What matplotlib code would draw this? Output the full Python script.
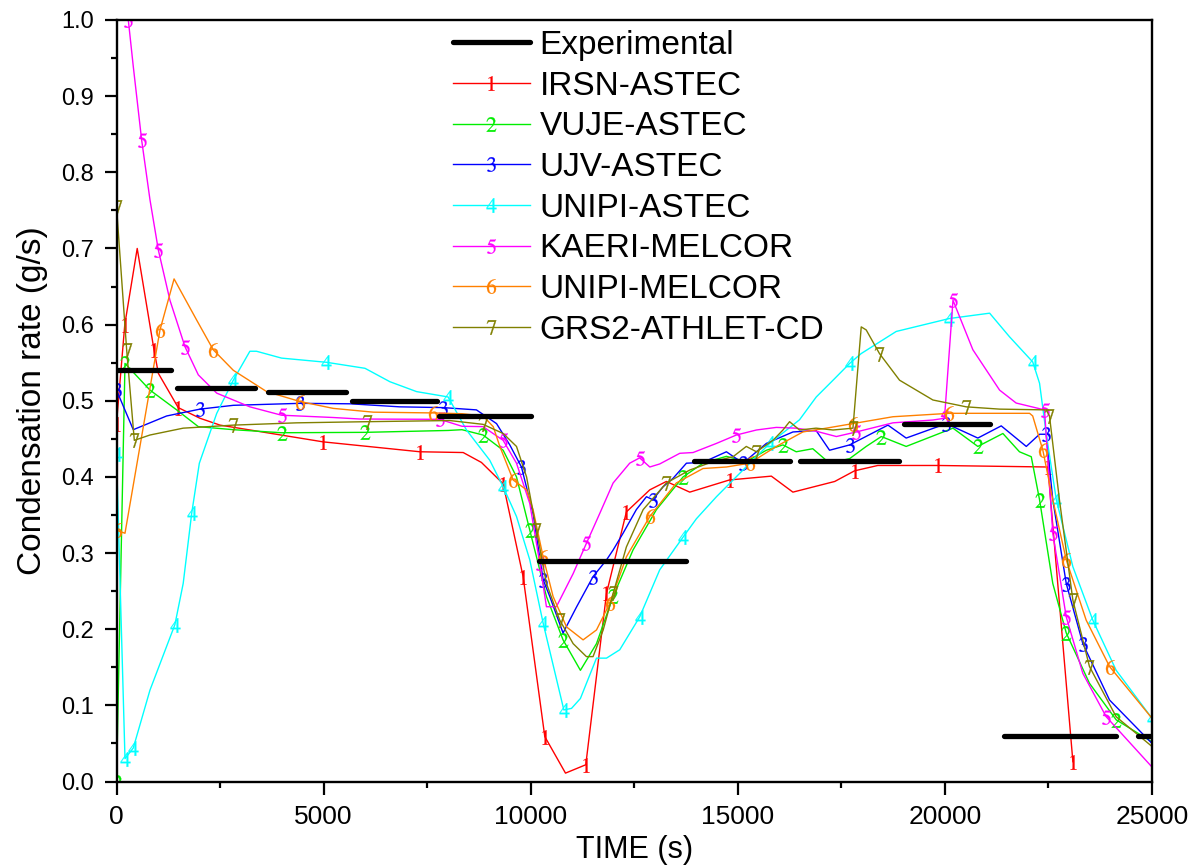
import numpy as np
import matplotlib
matplotlib.use("Agg")
import matplotlib.pyplot as plt

plt.rcParams['font.family'] = ['Liberation Sans', 'DejaVu Sans']
plt.rcParams['mathtext.fontset'] = 'stix'

# Experimental data (horizontal segments)
exp_start = [0, 1460, 3660, 5690, 7780, 10210, 13950, 16510, 19020, 21420, 24670]
exp_end = [1315, 3350, 5540, 7740, 10010, 13740, 16260, 18890, 21090, 24130, 25000]
exp_val = [0.54, 0.517, 0.511, 0.500, 0.480, 0.290, 0.421, 0.421, 0.470, 0.060, 0.060]

# IRSN-ASTEC
irsn_t = [0, 200, 500, 905, 1010, 1490, 2015, 2500, 4990, 7325, 8370, 8810, 9335,
          9817, 10340, 10840, 11330, 11830, 12310, 12875, 13275, 13840, 14800, 15810,
          16330, 17340, 17820, 18380, 19830, 22485, 23090]
irsn_v = [0.47, 0.60, 0.70, 0.567, 0.536, 0.491, 0.477, 0.468, 0.446, 0.433, 0.432,
          0.419, 0.391, 0.269, 0.059, 0.011, 0.022, 0.247, 0.354, 0.383, 0.394, 0.380,
          0.396, 0.401, 0.380, 0.394, 0.408, 0.415, 0.415, 0.413, 0.026]

# VUJE-ASTEC
vuje_t = [0, 205, 808, 1453, 1975, 2820, 3985, 6000, 8010, 8340, 8850, 9335, 9657,
          9978, 10380, 10781, 11200, 11588, 11990, 12470, 13035, 13680, 14160, 14725,
          15200, 15690, 16090, 16410, 16810, 17215, 17700, 18100, 18465, 19065, 20195,
          20795, 21400, 21800, 22085, 22285, 22605, 22930, 23490, 24135, 25000]
vuje_v = [0.0, 0.549, 0.514, 0.488, 0.466, 0.462, 0.458, 0.4585, 0.461, 0.462, 0.455,
          0.435, 0.400, 0.330, 0.243, 0.186, 0.146, 0.181, 0.243, 0.304, 0.357, 0.400,
          0.418, 0.427, 0.42, 0.435, 0.442, 0.433, 0.437, 0.418, 0.424, 0.440, 0.453,
          0.440, 0.464, 0.440, 0.457, 0.433, 0.4265, 0.370, 0.260, 0.195, 0.129, 0.081,
          0.052]

# UJV-ASTEC
ujv_t = [0, 405, 1210, 2015, 2820, 4430, 5640, 6840, 7885, 8690, 9175, 9495, 9777,
         10057, 10300, 10460, 10781, 11105, 11505, 11830, 11990, 12230, 12550, 12795,
         12950, 13195, 13435, 13760, 14160, 14400, 14725, 15125, 15690, 16330, 16890,
         17215, 17700, 18625, 19065, 20035, 20795, 21360, 21965, 22285, 22445, 22605,
         22930, 23330, 23975, 25000]
ujv_v = [0.514, 0.462, 0.48, 0.489, 0.494, 0.4966, 0.496, 0.492, 0.491, 0.488, 0.470,
         0.442, 0.413, 0.352, 0.265, 0.243, 0.195, 0.229, 0.269, 0.291, 0.304, 0.326,
         0.357, 0.374, 0.37, 0.387, 0.398, 0.418, 0.419, 0.425, 0.433, 0.418, 0.444,
         0.459, 0.461, 0.435, 0.442, 0.468, 0.451, 0.470, 0.451, 0.467, 0.440, 0.456,
         0.456, 0.370, 0.260, 0.181, 0.107, 0.050]

# UNIPI-ASTEC
unipia_t = [0, 205, 405, 808, 1410, 1610, 1815, 2000, 2420, 2820, 3220, 3380, 3985,
            5070, 6000, 6600, 7245, 8005, 8450, 9010, 9335, 9657, 9978, 10300, 10800,
            10985, 11200, 11588, 11830, 12150, 12630, 13115, 13680, 14000, 14485,
            15125, 15770, 16490, 16895, 17300, 17700, 17980, 18825, 20110, 21080,
            21560, 22120, 22285, 22445, 22690, 23090, 23570, 24135, 25000]
unipia_v = [0.43, 0.030, 0.044, 0.120, 0.206, 0.260, 0.352, 0.418, 0.4835, 0.527,
            0.565, 0.565, 0.556, 0.5505, 0.5426, 0.525, 0.512, 0.505, 0.4616, 0.422,
            0.387, 0.348, 0.291, 0.208, 0.094, 0.096, 0.109, 0.162, 0.162, 0.173,
            0.216, 0.278, 0.321, 0.345, 0.374, 0.409, 0.444, 0.475, 0.505, 0.527,
            0.549, 0.562, 0.591, 0.608, 0.615, 0.584, 0.551, 0.523, 0.457, 0.370,
            0.282, 0.212, 0.146, 0.083]

# KAERI-MELCOR
kaeri_t = [0, 285, 405, 608, 808, 1010, 1290, 1653, 1975, 2420, 3220, 3985, 5230, 5880,
           7805, 8340, 8850, 9335, 9657, 9978, 10220, 10380, 10620, 11025, 11345,
           11667, 11990, 12390, 12630, 12875, 13115, 13600, 13920, 14485, 14965, 15450,
           15930, 16410, 16890, 17380, 17860, 18745, 19710, 19990, 20195, 20675, 21320,
           21720, 22405, 22605, 22930, 23330, 23895, 25000]
kaeri_v = [1.15, 1.0, 0.939, 0.842, 0.764, 0.698, 0.632, 0.571, 0.534, 0.51, 0.492,
           0.481, 0.478, 0.476, 0.4756, 0.4665, 0.466, 0.448, 0.418, 0.365, 0.2865,
           0.2295, 0.2295, 0.273, 0.3128, 0.352, 0.392, 0.418, 0.425, 0.413, 0.417,
           0.431, 0.432, 0.444, 0.455, 0.4616, 0.465, 0.464, 0.46, 0.453, 0.459, 0.471,
           0.4747, 0.477, 0.632, 0.567, 0.514, 0.497, 0.488, 0.326, 0.216, 0.142,
           0.085, 0.019]

# UNIPI-MELCOR
unipim_t = [0, 205, 1050, 1390, 1935, 2335, 2820, 3625, 4430, 5230, 6200, 7645, 8340,
            8850, 9095, 9255, 9575, 9900, 10057, 10300, 10540, 10865, 11265, 11588,
            11910, 12310, 12875, 13515, 14160, 14725, 15285, 15930, 16570, 17135,
            17780, 18745, 20110, 22045, 22120, 22365, 22605, 22930, 23410, 23975, 25000]
unipim_v = [0.33, 0.326, 0.593, 0.66, 0.606, 0.567, 0.540, 0.512, 0.499, 0.490, 0.485,
            0.484, 0.483, 0.48, 0.466, 0.44, 0.396, 0.383, 0.357, 0.295, 0.243, 0.203,
            0.186, 0.199, 0.234, 0.295, 0.348, 0.392, 0.411, 0.413, 0.418, 0.44, 0.459,
            0.464, 0.470, 0.479, 0.4835, 0.4835, 0.48, 0.435, 0.370, 0.291, 0.212,
            0.151, 0.083]

# GRS2-ATHLET-CD
grs_t = [0, 245, 430, 808, 1610, 2820, 4350, 6040, 8047, 8850, 9335, 9657, 9900, 10140,
         10380, 10700, 11025, 11345, 11505, 11750, 11990, 12310, 12715, 13275, 13840,
         14400, 14885, 15205, 15450, 15850, 16090, 16250, 16490, 16890, 17300, 17780,
         17980, 18100, 18420, 18905, 19710, 20515, 21320, 22445, 22525, 22765, 23090,
         23490, 24135, 25000]
grs_v = [0.755, 0.567, 0.448, 0.455, 0.464, 0.468, 0.471, 0.4725, 0.474, 0.469, 0.457,
         0.44, 0.40, 0.330, 0.26, 0.212, 0.181, 0.164, 0.164, 0.199, 0.247, 0.308, 0.357,
         0.392, 0.409, 0.42, 0.4265, 0.44, 0.433, 0.448, 0.4616, 0.4725, 0.4616, 0.464,
         0.4616, 0.464, 0.597, 0.593, 0.562, 0.527, 0.501, 0.492, 0.489, 0.488, 0.48,
         0.370, 0.238, 0.151, 0.085, 0.046]

labels = ['IRSN-ASTEC', 'VUJE-ASTEC', 'UJV-ASTEC', 'UNIPI-ASTEC',
          'KAERI-MELCOR', 'UNIPI-MELCOR', 'GRS2-ATHLET-CD']
colors = ['#FF0000', '#00EE00', '#0000FF', '#00FFFF', '#FF00FF', '#FF8000', '#808000']
series = [(irsn_t, irsn_v), (vuje_t, vuje_v), (ujv_t, ujv_v), (unipia_t, unipia_v),
          (kaeri_t, kaeri_v), (unipim_t, unipim_v), (grs_t, grs_v)]

fig = plt.figure(figsize=(12.03, 8.68), dpi=100)
ax = fig.add_axes([116.5 / 1203, (868 - 781.5) / 868,
                   (1152 - 116.5) / 1203, (781.5 - 20) / 868])

# experimental segments
for i in range(len(exp_val)):
    ax.plot([exp_start[i], exp_end[i]], [exp_val[i], exp_val[i]], color='black',
            lw=3.8, solid_capstyle='round',
            label='Experimental' if i == 0 else None, zorder=3)

for i, (t, v) in enumerate(series):
    ax.plot(t, v, color=colors[i], lw=1.0, marker='$%d$' % (i + 1),
            markersize=10.5, markeredgewidth=0.2, markevery=0.09,
            label=labels[i], zorder=2)

ax.set_xlim(0, 25000)
ax.set_ylim(0, 1.0)
ax.set_xticks(np.arange(0, 25001, 5000))
ax.set_xticks(np.arange(0, 25001, 2500), minor=True)
ax.set_yticks(np.arange(0, 1.01, 0.1))
ax.set_yticks(np.arange(0, 1.01, 0.05), minor=True)
ax.set_yticklabels(['%.1f' % y for y in np.arange(0, 1.01, 0.1)])

ax.tick_params(which='major', direction='out', length=9, width=1.6,
               top=False, right=False)
ax.tick_params(which='minor', direction='out', length=4.5, width=1.6,
               top=False, right=False)
ax.tick_params(axis='x', labelsize=19, pad=8)
ax.tick_params(axis='y', labelsize=17, pad=7)
for s in ax.spines.values():
    s.set_linewidth(1.7)

ax.set_xlabel('TIME (s)', fontsize=22, labelpad=4)
ax.set_ylabel('Condensation rate (g/s)', fontsize=24, labelpad=10)

leg = ax.legend(loc='upper left', bbox_to_anchor=(453 / 1203, 1 - 30 / 868),
                bbox_transform=fig.transFigure, frameon=False, fontsize=24,
                numpoints=1, handlelength=2.3, handletextpad=0.3,
                labelspacing=0.29, borderpad=0, borderaxespad=0)

fig.savefig('out.png', dpi=100)
